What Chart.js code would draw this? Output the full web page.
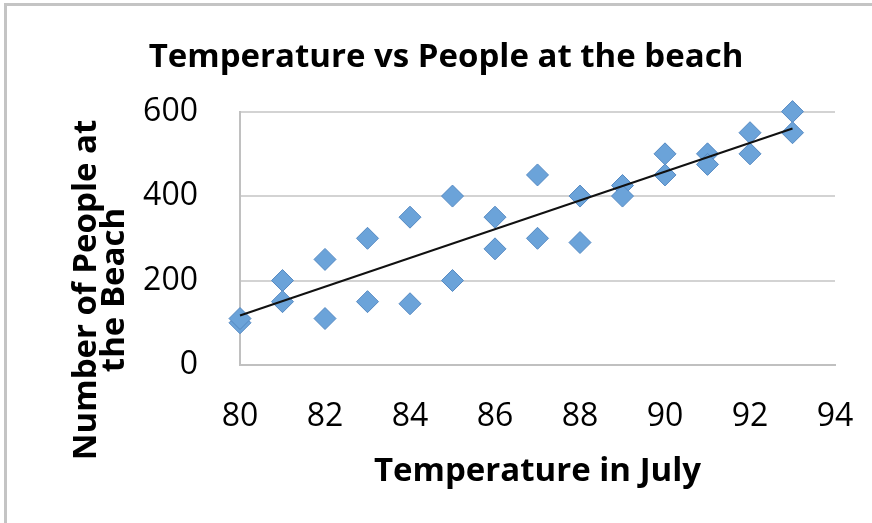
<!DOCTYPE html>
<html>
<head>
<meta charset="utf-8">
<script src="https://cdn.jsdelivr.net/npm/chart.js@4/dist/chart.umd.min.js"></script>
<style>
  html, body { margin: 0; padding: 0; background: #fff; }
  #wrap { position: relative; width: 872px; height: 523px; overflow: hidden; }
  #wrap canvas { position: absolute; left: 0; top: 0; }
  .edgeTop { position: absolute; left: 4px; top: 3px; width: 868px; height: 3px; background: #c4c4c4; }
  .edgeLeft { position: absolute; left: 4px; top: 3px; width: 3px; height: 520px; background: #c4c4c4; }
</style>
</head>
<body>
<div id="wrap">
  <canvas id="beach-chart" width="872" height="523"></canvas>
  <div class="edgeTop"></div>
  <div class="edgeLeft"></div>
</div>
<script>
// Temperature (x) and people at the beach (y)
var temps  = [80, 80, 81, 81, 82, 82, 83, 83, 84, 84, 85, 85, 86, 86,
              87, 87, 88, 88, 89, 89, 90, 90, 91, 91, 92, 92, 93, 93];
var people = [100, 110, 200, 150, 250, 110, 300, 150, 350, 145, 400, 200, 350, 275,
              450, 300, 400, 290, 425, 400, 500, 450, 500, 475, 550, 500, 600, 550];
var xTicks = [80, 82, 84, 86, 88, 90, 92, 94];
var yTicks = [0, 200, 400, 600];

var chartTitle = "Temperature vs People at the beach";
var xTitle = "Temperature in July";
var yTitle = ["Number of People at", "the Beach"];

var points = temps.map(function(t, i) { return { x: t, y: people[i] }; });

// linear trendline (least squares) through the points
var n = temps.length, sx = 0, sy = 0, sxy = 0, sxx = 0;
for (var i = 0; i < n; i++) {
  sx += temps[i]; sy += people[i];
  sxy += temps[i] * people[i]; sxx += temps[i] * temps[i];
}
var slope = (n * sxy - sx * sy) / (n * sxx - sx * sx);
var icept = (sy - slope * sx) / n;
var tMin = Math.min.apply(null, temps), tMax = Math.max.apply(null, temps);
var trend = [{ x: tMin, y: icept + slope * tMin }, { x: tMax, y: icept + slope * tMax }];

var FONT = "'Open Sans', sans-serif";

// rotated y axis title, drawn as two lines like the original
var yTitlePlugin = {
  id: "yTitle",
  afterDraw: function(chart) {
    var ctx = chart.ctx;
    ctx.save();
    ctx.fillStyle = "#000";
    ctx.font = "bold 33px " + FONT;
    ctx.textAlign = "center";
    ctx.textBaseline = "middle";
    ctx.translate(87, 290);
    ctx.rotate(-Math.PI / 2);
    ctx.fillText(yTitle[0], 0, 0);
    ctx.fillText(yTitle[1], 0, 28);
    ctx.restore();
  }
};

var ctx = document.getElementById("beach-chart").getContext("2d");
var chart = new Chart(ctx, {
  type: "scatter",
  data: {
    datasets: [{
      type: "line",
      label: "Trend",
      data: trend,
      borderColor: "#111",
      borderWidth: 2,
      pointRadius: 0,
      fill: false,
      clip: false,
      order: 0
    }, {
      label: "People",
      data: points,
      pointStyle: "rectRot",
      pointRadius: 11,
      pointHoverRadius: 11,
      backgroundColor: "#6ba3d9",
      borderColor: "#5589c2",
      borderWidth: 1,
      clip: false,
      order: 1
    }]
  },
  options: {
    responsive: false,
    animation: false,
    layout: { padding: { top: 0, left: 20, right: 0, bottom: 0 } },
    plugins: {
      legend: { display: false },
      tooltip: { enabled: false },
      title: {
        display: true,
        text: chartTitle,
        color: "#000",
        font: { family: FONT, size: 33, weight: "bold", lineHeight: 1.2 },
        padding: { top: 38, bottom: 34 }
      }
    },
    scales: {
      x: {
        type: "linear",
        min: 80, max: 94,
        afterFit: function(s) { s.height = 158; s.paddingLeft = 0; s.paddingRight = 37; },
        afterBuildTicks: function(s) { s.ticks = xTicks.map(function(v) { return { value: v }; }); },
        grid: { display: false, drawTicks: false },
        border: { display: true, color: "#c0c0c0", width: 2 },
        ticks: { color: "#000", padding: 33, font: { family: FONT, size: 32 } },
        title: {
          display: true,
          text: xTitle,
          color: "#000",
          font: { family: FONT, size: 33, weight: "bold", lineHeight: 1.2 },
          padding: { top: 0, bottom: 32 }
        }
      },
      y: {
        min: 0, max: 600,
        afterFit: function(s) { s.width = 220; },
        afterBuildTicks: function(s) { s.ticks = yTicks.map(function(v) { return { value: v }; }); },
        grid: { color: "#d3d3d3", lineWidth: 2, drawTicks: false },
        border: { display: true, color: "#c0c0c0", width: 2 },
        ticks: { color: "#000", padding: 42, font: { family: FONT, size: 32 } }
      }
    }
  },
  plugins: [yTitlePlugin]
});
</script>
</body>
</html>
